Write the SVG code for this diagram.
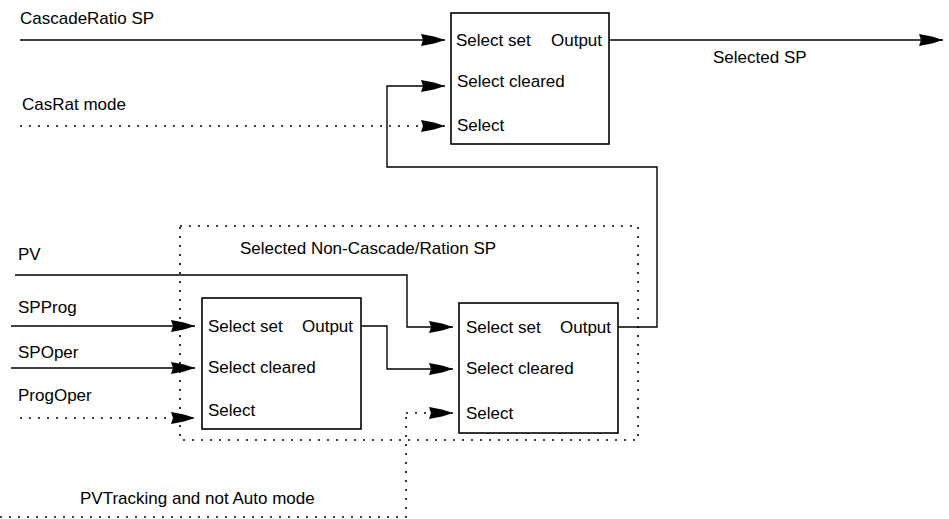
<svg xmlns="http://www.w3.org/2000/svg" width="949" height="519" viewBox="0 0 949 519">
  <style>
    text { font-family: "Liberation Sans", Arial, sans-serif; font-size: 17px; fill: #000; }
    .box { fill: #fff; stroke: #000; stroke-width: 1.6; }
    .wire { fill: none; stroke: #000; stroke-width: 1.4; }
    .dot { fill: none; stroke: #000; stroke-width: 1.6; stroke-dasharray: 2 7; }
    .frame { fill: none; stroke: #000; stroke-width: 1.6; stroke-dasharray: 2 7; }
  </style>
  <defs>
    <marker id="arrow" markerUnits="userSpaceOnUse" markerWidth="26" markerHeight="16" refX="25" refY="8" orient="auto" overflow="visible">
      <path d="M25,8 L14,4.5 L1,2 L3,8 L1,14 L14,11.5 Z" fill="#000"/>
    </marker>
  </defs>
  <rect width="949" height="519" fill="#fff"/>

  <!-- grouping frame around the non-cascade selection -->
  <g id="frame-noncascade">
    <rect class="frame" x="180" y="226" width="458" height="214"/>
    <text x="240" y="254">Selected Non-Cascade/Ration SP</text>
  </g>

  <!-- input / output labels -->
  <g id="labels">
    <text x="20" y="24">CascadeRatio SP</text>
    <text x="22" y="110">CasRat mode</text>
    <text x="713" y="63">Selected SP</text>
    <text x="18" y="260">PV</text>
    <text x="18" y="313">SPProg</text>
    <text x="18" y="358">SPOper</text>
    <text x="18" y="401">ProgOper</text>
    <text x="80" y="504">PVTracking and not Auto mode</text>
  </g>

  <!-- connectors -->
  <g id="connectors">
    <path class="wire" d="M20,40 H445" marker-end="url(#arrow)"/>
    <path class="dot" d="M20,126 H445" marker-end="url(#arrow)"/>
    <path class="wire" d="M609,40 H943" marker-end="url(#arrow)"/>
    <path class="wire" d="M618,327 H657 V167 H387 V86 H445" marker-end="url(#arrow)"/>
    <path class="wire" d="M15,275 H407 V327 H453" marker-end="url(#arrow)"/>
    <path class="wire" d="M11,326 H195" marker-end="url(#arrow)"/>
    <path class="wire" d="M11,368 H195" marker-end="url(#arrow)"/>
    <path class="dot" d="M20,418 H195" marker-end="url(#arrow)"/>
    <path class="wire" d="M361,326 H387 V369 H453" marker-end="url(#arrow)"/>
    <path class="dot" d="M0,517 H406 V413" />
    <path class="dot" d="M406,413 H453" marker-end="url(#arrow)"/>
  </g>

  <!-- cascade/ratio selector -->
  <g id="select-cascade">
    <rect class="box" x="451" y="13" width="158" height="131"/>
    <text x="456" y="46">Select set</text>
    <text x="551" y="46">Output</text>
    <text x="457" y="87">Select cleared</text>
    <text x="457" y="131">Select</text>
  </g>

  <!-- programmer/operator selector -->
  <g id="select-progoper">
    <rect class="box" x="202" y="298" width="159" height="131"/>
    <text x="208" y="332">Select set</text>
    <text x="302" y="332">Output</text>
    <text x="208" y="373">Select cleared</text>
    <text x="208" y="416">Select</text>
  </g>

  <!-- PV tracking selector -->
  <g id="select-pvtrack">
    <rect class="box" x="459" y="303" width="159" height="130"/>
    <text x="466" y="333">Select set</text>
    <text x="560" y="333">Output</text>
    <text x="466" y="374">Select cleared</text>
    <text x="466" y="419">Select</text>
  </g>
</svg>
